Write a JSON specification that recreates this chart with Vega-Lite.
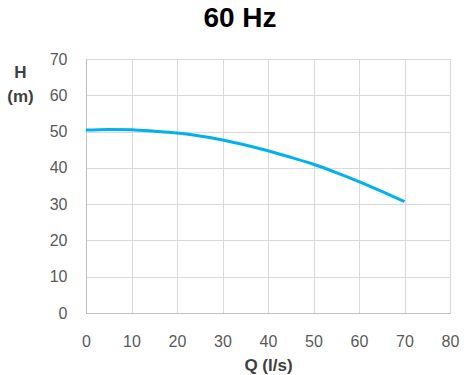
{
  "$schema": "https://vega.github.io/schema/vega-lite/v6.json",
  "autosize": {"type": "none"},
  "width": 364,
  "height": 254,
  "padding": {"left": 86, "top": 59, "right": 22, "bottom": 62},
  "background": "white",
  "title": {
    "text": "60 Hz",
    "font": "Liberation Sans",
    "fontSize": 28,
    "fontWeight": "bold",
    "color": "#000000",
    "anchor": "middle",
    "dx": -28,
    "offset": 18
  },
  "config": {
    "view": {"stroke": "#d9d9d9", "strokeWidth": 1},
    "axis": {
      "labelFont": "Liberation Sans",
      "labelFontSize": 16,
      "labelColor": "#595959",
      "labelFlush": false,
      "titleFont": "Liberation Sans",
      "titleFontSize": 17,
      "titleFontWeight": "bold",
      "titleColor": "#404040",
      "gridColor": "#d9d9d9",
      "gridWidth": 1,
      "domainColor": "#bfbfbf",
      "ticks": false
    }
  },
  "data": {
    "values": [
      {"q": 0, "h": 50.4},
      {"q": 5, "h": 50.6},
      {"q": 10, "h": 50.5},
      {"q": 15, "h": 50.1},
      {"q": 20, "h": 49.6},
      {"q": 25, "h": 48.8},
      {"q": 30, "h": 47.7},
      {"q": 35, "h": 46.3},
      {"q": 40, "h": 44.7},
      {"q": 45, "h": 42.9},
      {"q": 50, "h": 41.0},
      {"q": 55, "h": 38.7},
      {"q": 60, "h": 36.2},
      {"q": 65, "h": 33.5},
      {"q": 70, "h": 30.7}
    ]
  },
  "mark": {"type": "line", "color": "#00b0f0", "strokeWidth": 3, "interpolate": "monotone"},
  "encoding": {
    "x": {
      "field": "q",
      "type": "quantitative",
      "scale": {"domain": [0, 80], "nice": false},
      "axis": {"values": [0, 10, 20, 30, 40, 50, 60, 70, 80], "title": "Q (l/s)", "labelPadding": 20, "titlePadding": 8}
    },
    "y": {
      "field": "h",
      "type": "quantitative",
      "scale": {"domain": [0, 70], "nice": false},
      "axis": {
        "values": [0, 10, 20, 30, 40, 50, 60, 70],
        "title": ["H", "(m)"],
        "titleAngle": 0,
        "titleAlign": "center",
        "titleBaseline": "top",
        "titleX": -66,
        "titleY": 5,
        "titleLineHeight": 24,
        "labelPadding": 19
      }
    }
  }
}
